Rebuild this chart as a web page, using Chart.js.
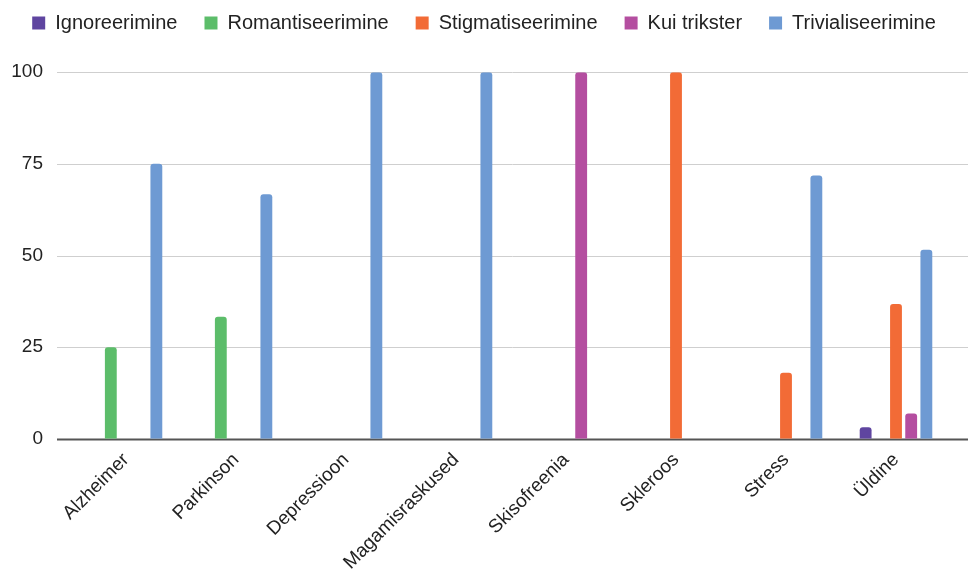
<!DOCTYPE html>
<html>
<head>
<meta charset="utf-8">
<script src="https://cdn.jsdelivr.net/npm/chart.js@4"></script>
<style>
  html, body { margin: 0; padding: 0; background: #fff; }
  #wrap { width: 968px; height: 576px; }
</style>
</head>
<body>
<div id="wrap"><canvas id="chart" width="968" height="576"></canvas></div>
<script>
// ===== DATA =====
const categories = ["Alzheimer", "Parkinson", "Depressioon", "Magamisraskused", "Skisofreenia", "Skleroos", "Stress", "Üldine"];
const ignoreerimine = [0, 0, 0, 0, 0, 0, 0, 3.2];
const romantiseerimine = [25, 33.3, 0, 0, 0, 0, 0, 0];
const stigmatiseerimine = [0, 0, 0, 0, 0, 100, 18, 36.8];
const kuiTrikster = [0, 0, 0, 0, 100, 0, 0, 6.9];
const trivialiseerimine = [75, 66.7, 100, 100, 0, 0, 71.8, 51.6];
const yTicks = [0, 25, 50, 75, 100];

const FONT = "'Liberation Sans', Arial, sans-serif";

// grid lines run past the plot area like in the original
const wideGrid = {
  id: "wideGrid",
  beforeDatasetsDraw(chart) {
    const { ctx, scales: { y }, width } = chart;
    ctx.save();
    yTicks.forEach(v => {
      const py = Math.round(y.getPixelForValue(v)) + 0.5;
      ctx.beginPath();
      ctx.strokeStyle = v === 0 ? "#555" : "#cfcfcf";
      ctx.lineWidth = v === 0 ? 2 : 1;
      ctx.moveTo(57, py);
      ctx.lineTo(width, py);
      ctx.stroke();
    });
    ctx.restore();
  }
};

function ds(label, data, color) {
  return {
    label, data,
    backgroundColor: color,
    borderRadius: 3,
    borderSkipped: "start",
    categoryPercentage: 0.69,
    barPercentage: 0.78
  };
}

new Chart(document.getElementById("chart"), {
  type: "bar",
  data: {
    labels: categories,
    datasets: [
      ds("Ignoreerimine", ignoreerimine, "#5f45a0"),
      ds("Romantiseerimine", romantiseerimine, "#5cbd6a"),
      ds("Stigmatiseerimine", stigmatiseerimine, "#f26b36"),
      ds("Kui trikster", kuiTrikster, "#b44ea0"),
      ds("Trivialiseerimine", trivialiseerimine, "#6e9ad3")
    ]
  },
  options: {
    responsive: false,
    animation: false,
    layout: { padding: { top: -14 } },
    plugins: {
      legend: {
        position: "top",
        weight: 3000,
        labels: {
          font: { family: FONT, size: 20 },
          color: "#222",
          boxWidth: 13,
          boxHeight: 13,
          padding: 27
        }
      },
      // empty title used only as a gap under the legend
      title: {
        display: true,
        text: " ",
        weight: 500,
        font: { size: 1 },
        padding: { top: 0, bottom: 28 }
      },
      tooltip: { enabled: false }
    },
    scales: {
      x: {
        grid: { display: false },
        border: { display: false },
        ticks: {
          font: { family: FONT, size: 19 },
          color: "#222",
          maxRotation: 45,
          minRotation: 45,
          padding: 2
        }
      },
      y: {
        min: 0,
        max: 100,
        afterFit(scale) { scale.width = 71; },
        afterBuildTicks(scale) { scale.ticks = yTicks.map(v => ({ value: v })); },
        grid: { display: false },
        border: { display: false },
        ticks: {
          font: { family: FONT, size: 19 },
          color: "#222",
          padding: 20
        }
      },
      // empty right axis, keeps the last group off the edge
      yRight: {
        position: "right",
        min: 0,
        max: 100,
        afterFit(scale) { scale.width = 17; },
        grid: { display: false },
        border: { display: false },
        ticks: { display: false }
      }
    }
  },
  plugins: [wideGrid]
});
</script>
</body>
</html>
